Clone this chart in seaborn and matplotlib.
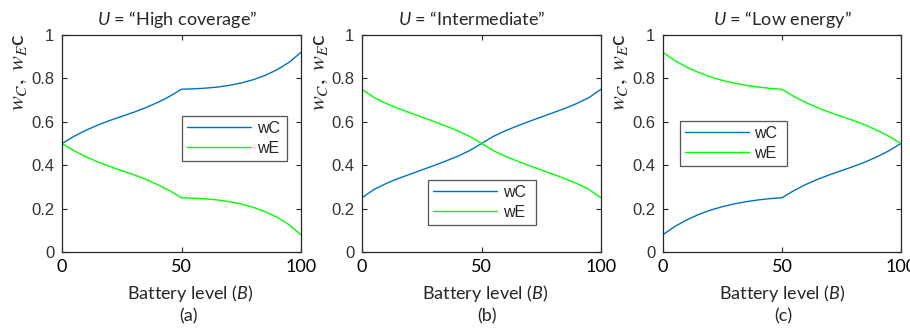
import pandas as pd
import seaborn as sns
import matplotlib.pyplot as plt

# Values (battery level in steps of 5)
BATTERY = [0, 5, 10, 15, 20, 25, 30, 35, 40, 45, 50,
           55, 60, 65, 70, 75, 80, 85, 90, 95, 100]

HIGH_WC = [0.500, 0.533, 0.561, 0.585, 0.606, 0.625, 0.644, 0.665, 0.689, 0.717, 0.750,
           0.752, 0.755, 0.760, 0.768, 0.779, 0.794, 0.814, 0.840, 0.874, 0.920]
HIGH_WE = [0.500, 0.467, 0.439, 0.415, 0.394, 0.375, 0.356, 0.335, 0.311, 0.283, 0.250,
           0.248, 0.245, 0.240, 0.232, 0.221, 0.206, 0.186, 0.160, 0.126, 0.080]

MID_WC = [0.250, 0.288, 0.315, 0.338, 0.358, 0.378, 0.398, 0.419, 0.441, 0.467, 0.500,
          0.533, 0.559, 0.581, 0.602, 0.622, 0.642, 0.662, 0.685, 0.712, 0.750]
MID_WE = [0.750, 0.712, 0.685, 0.662, 0.642, 0.622, 0.602, 0.581, 0.559, 0.533, 0.500,
          0.467, 0.441, 0.419, 0.398, 0.378, 0.358, 0.338, 0.315, 0.288, 0.250]

LOW_WC = [0.080, 0.118, 0.148, 0.173, 0.193, 0.209, 0.222, 0.232, 0.240, 0.246, 0.250,
          0.283, 0.311, 0.335, 0.356, 0.375, 0.394, 0.415, 0.439, 0.467, 0.500]
LOW_WE = [0.920, 0.882, 0.852, 0.827, 0.807, 0.791, 0.778, 0.768, 0.760, 0.754, 0.750,
          0.717, 0.689, 0.665, 0.644, 0.625, 0.606, 0.585, 0.561, 0.533, 0.500]

MODES = ["High coverage", "Intermediate", "Low energy"]
SUBLABELS = ["(a)", "(b)", "(c)"]
SERIES = ["wC", "wE"]
X_TICKS = [0, 50, 100]
Y_TICKS = [0, 0.2, 0.4, 0.6, 0.8, 1]
Y_TICK_LABELS = ["0", "0.2", "0.4", "0.6", "0.8", "1"]

COLORS = {"wC": "#0072BD", "wE": "#00FF00"}
AXIS_COLOR = "#262626"
W, H = 910, 328

# layout in pixels of the 910x328 picture
AXES_LEFT = [62, 362, 663]
AXES_WIDTH = [239, 239, 238]
AXES_TOP, AXES_BOTTOM = 35, 252
TITLE_X = [177.5, 472, 782]
XLABEL_X = [190, 485, 782]
SUB_X = [189, 487, 783]
YLABEL_X = [19, 320, 620]
LEGEND_BOX = [(0.502, 0.627, 0.44), (0.276, 0.332, 0.452), (0.071, 0.604, 0.45)]


def main():
    sns.set_style("ticks")
    plt.rcParams["font.family"] = ["Liberation Sans", "DejaVu Sans"]
    plt.rcParams["mathtext.fontset"] = "custom"
    plt.rcParams["mathtext.rm"] = "Lato"
    plt.rcParams["mathtext.it"] = "Lato:italic"

    fig = plt.figure(figsize=(W / 100, H / 100), dpi=100)
    data = [(HIGH_WC, HIGH_WE), (MID_WC, MID_WE), (LOW_WC, LOW_WE)]

    for i, (wc, we) in enumerate(data):
        ax = fig.add_axes([AXES_LEFT[i] / W, 1 - AXES_BOTTOM / H,
                           AXES_WIDTH[i] / W, (AXES_BOTTOM - AXES_TOP) / H])
        df = pd.DataFrame({
            "B": BATTERY + BATTERY,
            "w": wc + we,
            "series": ["wC"] * len(BATTERY) + ["wE"] * len(BATTERY),
        })
        sns.lineplot(data=df, x="B", y="w", hue="series", hue_order=SERIES,
                     palette=COLORS, linewidth=1.0, legend=False, ax=ax)

        ax.set_xlim(0, 100)
        ax.set_ylim(0, 1)
        ax.set_xticks(X_TICKS)
        ax.set_yticks(Y_TICKS)
        ax.set_yticklabels(Y_TICK_LABELS)
        ax.set_xlabel("")
        ax.set_ylabel("")
        for sp in ax.spines.values():
            sp.set_visible(True)
            sp.set_color(AXIS_COLOR)
            sp.set_linewidth(0.9)
        ax.tick_params(direction="in", length=3.5, width=0.8, color=AXIS_COLOR,
                       top=True, right=True)
        ax.tick_params(axis="x", pad=5, labelsize=13, labelcolor="black")
        ax.tick_params(axis="y", pad=5.5, labelsize=12, labelcolor="#333333")
        for lab in ax.get_xticklabels():
            lab.set_fontfamily("Lato")

        x0, y0, bw = LEGEND_BOX[i]
        leg = ax.legend(ax.get_lines()[:2], SERIES, loc="upper left",
                        bbox_to_anchor=(x0, y0, bw, 0), mode="expand",
                        borderaxespad=0, fontsize=11.5, handlelength=4.0,
                        handletextpad=0.35, borderpad=0.32, labelspacing=0.28,
                        fancybox=False, framealpha=1)
        leg.get_frame().set_edgecolor("#555555")
        leg.get_frame().set_linewidth(0.9)

        fig.text(TITLE_X[i] / W, 1 - 25 / H, "$\\mathit{U}$ = \u201c" + MODES[i] + "\u201d",
                 ha="center", va="baseline", fontsize=13, family="Lato",
                 math_fontfamily="custom")
        fig.text(XLABEL_X[i] / W, 1 - 299 / H, "Battery level ($\\mathit{B}$)",
                 ha="center", va="baseline", fontsize=13, family="Lato",
                 math_fontfamily="custom")
        fig.text(SUB_X[i] / W, 1 - 321 / H, SUBLABELS[i],
                 ha="center", va="baseline", fontsize=13, family="Lato")
        fig.text(YLABEL_X[i] / W, 1 - 33 / H, "$w_C,\\ w_E$c", rotation=90,
                 ha="center", va="top", fontsize=16, family="Lato",
                 math_fontfamily="stix")

    fig.savefig("out.png", dpi=100)
    plt.close(fig)


if __name__ == "__main__":
    main()
